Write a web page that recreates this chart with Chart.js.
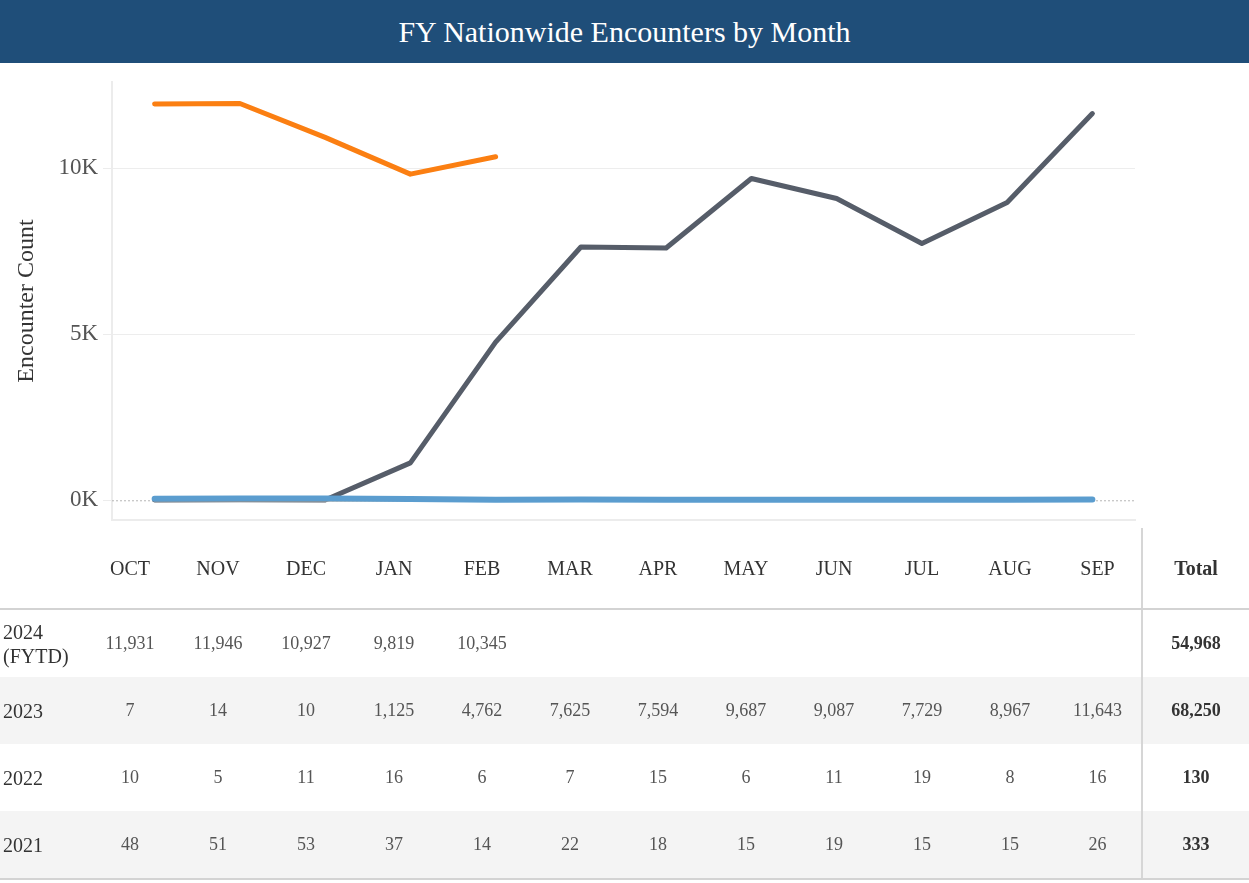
<!DOCTYPE html>
<html>
<head>
<meta charset="utf-8">
<script src="https://cdn.jsdelivr.net/npm/chart.js@4.4.1/dist/chart.umd.min.js"></script>
<style>
  html, body { margin: 0; padding: 0; background: #fff; }
  body { width: 1249px; height: 883px; position: relative; overflow: hidden;
         font-family: 'Times New Roman', 'Liberation Serif', serif; }
  .title-bar { position: absolute; left: 0; top: 0; width: 1249px; height: 63px;
               background: #1f4e79; color: #fff; font-size: 30px;
               line-height: 63px; text-align: center; }
  .chart-box { position: absolute; left: 0; top: 63px; width: 1249px; height: 476px; }
  table { position: absolute; left: 0; top: 528px; width: 1249px;
          border-collapse: collapse; table-layout: fixed; }
  th, td { padding: 0; text-align: center; }
  thead th { height: 80px; font-size: 20px; font-weight: normal; color: #333;
             border-bottom: 2px solid #d3d3d3; }
  thead th.total { font-weight: bold; }
  tbody td { height: 67px; font-size: 18px; color: #555; }
  tbody td.lbl { text-align: left; padding-left: 3px; font-size: 20px; color: #333; line-height: 24px; }
  tbody td.total { font-weight: bold; color: #333; }
  .total { border-left: 2px solid #d6d6d6; }
  tbody tr.shade td { background: #f4f4f4; }
  tbody tr:last-child td { border-bottom: 2px solid #d3d3d3; }
</style>
</head>
<body>
<div class="title-bar">FY Nationwide Encounters by Month</div>
<div class="chart-box"><canvas id="encChart"></canvas></div>
<table id="encTable">
  <colgroup>
    <col style="width:86px">
    <col span="12" style="width:88px">
    <col style="width:107px">
  </colgroup>
  <thead><tr id="headRow"></tr></thead>
  <tbody id="bodyRows"></tbody>
</table>

<script>
// Data
const months = ['OCT', 'NOV', 'DEC', 'JAN', 'FEB', 'MAR', 'APR', 'MAY', 'JUN', 'JUL', 'AUG', 'SEP'];
const fy2024 = [11931, 11946, 10927, 9819, 10345, null, null, null, null, null, null, null];
const fy2023 = [7, 14, 10, 1125, 4762, 7625, 7594, 9687, 9087, 7729, 8967, 11643];
const fy2022 = [10, 5, 11, 16, 6, 7, 15, 6, 11, 19, 8, 16];
const fy2021 = [48, 51, 53, 37, 14, 22, 18, 15, 19, 15, 15, 26];
const rowLabels = ['2024 (FYTD)', '2023', '2022', '2021'];
const totals = [54968, 68250, 130, 333];
const yTicks = [0, 5000, 10000];

// Build the table
const headRow = document.getElementById('headRow');
headRow.innerHTML = '<th></th>' + months.map(m => '<th>' + m + '</th>').join('') +
    '<th class="total">Total</th>';

const rows = [fy2024, fy2023, fy2022, fy2021];
const bodyRows = document.getElementById('bodyRows');
rows.forEach((vals, i) => {
    const tr = document.createElement('tr');
    if (i % 2 === 1) tr.className = 'shade';
    let html = '<td class="lbl">' + rowLabels[i] + '</td>';
    vals.forEach(v => {
        html += '<td>' + (v === null ? '' : v.toLocaleString('en-US')) + '</td>';
    });
    html += '<td class="total">' + totals[i].toLocaleString('en-US') + '</td>';
    tr.innerHTML = html;
    bodyRows.appendChild(tr);
});

// Dotted zero line
const zeroLine = {
    id: 'zeroLine',
    beforeDatasetsDraw(chart) {
        const y = chart.scales.y.getPixelForValue(0);
        const area = chart.chartArea;
        const ctx = chart.ctx;
        ctx.save();
        ctx.strokeStyle = '#b5b5b5';
        ctx.lineWidth = 1;
        ctx.setLineDash([2, 2]);
        ctx.beginPath();
        ctx.moveTo(area.left, y + 0.5);
        ctx.lineTo(area.right, y + 0.5);
        ctx.stroke();
        ctx.restore();
    }
};

const serif = "'Times New Roman', 'Liberation Serif', serif";

new Chart(document.getElementById('encChart'), {
    type: 'line',
    data: {
        labels: months,
        datasets: [
            { label: '2021', data: fy2021, borderColor: '#5b9dcf', borderWidth: 6, order: 1 },
            { label: '2022', data: fy2022, borderColor: '#efb27a', borderWidth: 3, order: 2 },
            { label: '2023', data: fy2023, borderColor: '#565d69', borderWidth: 5, order: 3 },
            { label: '2024', data: fy2024, borderColor: '#fb7f12', borderWidth: 5, order: 4 }
        ]
    },
    options: {
        responsive: true,
        maintainAspectRatio: false,
        animation: false,
        layout: { padding: { left: 0, right: 114, top: 17, bottom: 6 } },
        elements: {
            point: { radius: 0, hoverRadius: 0 },
            line: { tension: 0, borderCapStyle: 'round', borderJoinStyle: 'round' }
        },
        plugins: {
            legend: { display: false },
            tooltip: { enabled: false }
        },
        scales: {
            x: {
                offset: true,
                ticks: { display: false },
                grid: { color: 'rgba(0,0,0,0)', drawTicks: false },
                border: { display: true, color: '#ececec', width: 2 },
                afterFit(scale) { scale.height = 0; }
            },
            y: {
                min: -600,
                max: 12600,
                afterBuildTicks(scale) {
                    scale.ticks = yTicks.map(v => ({ value: v }));
                },
                ticks: {
                    color: '#555',
                    padding: 5,
                    font: { family: serif, size: 23 },
                    callback: v => (v / 1000) + 'K'
                },
                grid: {
                    color: ctx => (ctx.tick && ctx.tick.value === 0) ? 'rgba(0,0,0,0)' : '#ededed',
                    tickColor: '#ececec',
                    tickLength: 9,
                    lineWidth: 1
                },
                border: { display: true, color: '#ececec', width: 2 },
                title: {
                    display: true,
                    text: 'Encounter Count',
                    color: '#333',
                    font: { family: serif, size: 24 },
                    padding: { top: 12, bottom: 0 }
                },
                afterFit(scale) { scale.width = 112; }
            }
        }
    },
    plugins: [zeroLine]
});
</script>
</body>
</html>
